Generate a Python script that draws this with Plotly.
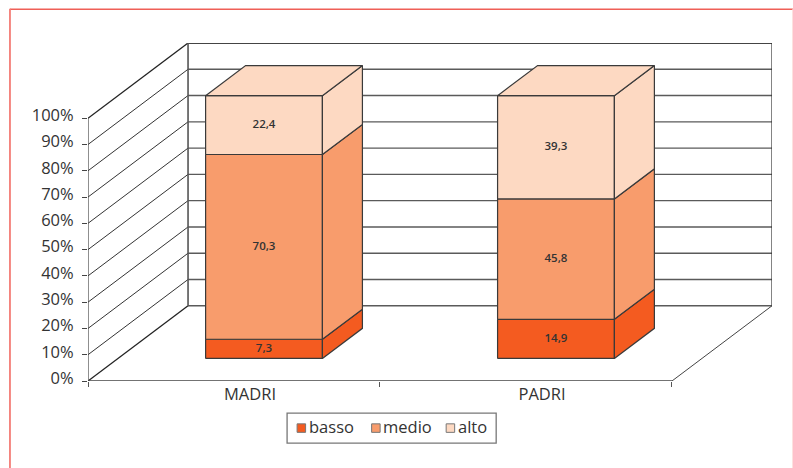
import plotly.graph_objects as go

categories = ["MADRI", "PADRI"]
series_names = ["basso", "medio", "alto"]
basso = [7.3, 14.9]
medio = [70.3, 45.8]
alto = [22.4, 39.3]
value_labels = {"basso": ["7,3", "14,9"], "medio": ["70,3", "45,8"], "alto": ["22,4", "39,3"]}
y_ticks = [0, 10, 20, 30, 40, 50, 60, 70, 80, 90, 100]
y_tick_text = ["0%", "10%", "20%", "30%", "40%", "50%", "60%", "70%", "80%", "90%", "100%"]
colors = {"basso": "#F45B20", "medio": "#F89C6C", "alto": "#FDD9C2"}

W, H = 793, 468
L, R, T, B = 88.0, 771.7, 43.3, 381.0     # plot box in pixels
PX_CAT = 291.85                           # pixels per category
PX_PCT = 2.63                             # pixels per percent
DX = 100 / PX_CAT                         # depth shear in x units
DY = 75.3 / PX_PCT                        # depth shear in y units
BAR_START, BAR_W = 0.3, 0.4               # in category units
D_FRONT, D_BACK = 0.3, 0.7                # bar position in depth
LINE = "#3a3a3a"
FONT = "Open Sans"


def proj(x, y, d=0.0):
    return x + d * DX, y + d * DY


def poly(points):
    xs, ys = zip(*[proj(*p) for p in points])
    return list(xs) + [xs[0]], list(ys) + [ys[0]]


def paper_x(px):
    return (px - L) / (R - L)


def paper_y(py):
    return (B - py) / (B - T)


fig = go.Figure()


def add_lines(segments, color, width):
    xs, ys = [], []
    for a, b in segments:
        pa, pb = proj(*a), proj(*b)
        xs += [pa[0], pb[0], None]
        ys += [pa[1], pb[1], None]
    fig.add_trace(go.Scatter(x=xs, y=ys, mode="lines", line=dict(color=color, width=width),
                             showlegend=False, hoverinfo="skip", cliponaxis=False))


# Walls
n = len(categories)
add_lines([((0, t, 1), (n, t, 1)) for t in y_ticks[:-1]], "#5a5a5a", 1.4)
add_lines([((0, 100, 1), (n, 100, 1))], "#444444", 1.8)
add_lines([((0, t, 0), (0, t, 1)) for t in y_ticks[1:-1]], "#333333", 1)
add_lines([((0, 0, 0), (0, 0, 1)), ((0, 100, 0), (0, 100, 1))], "#222222", 1.3)
add_lines([((0, 0, 0), (0, 100, 0))], "#444444", 1.2)
add_lines([((0, 0, 1), (0, 100, 1))], "#555555", 1.6)
add_lines([((n, 0, 1), (n, 100, 1))], "#333333", 1.2)
add_lines([((n, 0, 0), (n, 0, 1))], "#444444", 1)
add_lines([((0, 0, 0), (n, 0, 0))], "#444444", 1.6)

# Bars
series_values = {"basso": basso, "medio": medio, "alto": alto}
for i in range(n):
    x0, x1 = i + BAR_START, i + BAR_START + BAR_W
    base = 0.0
    for name in series_names:
        v = series_values[name][i]
        top = base + v
        for face in (
            [(x0, base, D_FRONT), (x1, base, D_FRONT), (x1, top, D_FRONT), (x0, top, D_FRONT)],
            [(x1, base, D_FRONT), (x1, base, D_BACK), (x1, top, D_BACK), (x1, top, D_FRONT)],
        ):
            xs, ys = poly(face)
            fig.add_trace(go.Scatter(x=xs, y=ys, mode="lines", fill="toself", fillcolor=colors[name],
                                     line=dict(color=LINE, width=1.2), name=name, showlegend=False,
                                     hoverinfo="skip", cliponaxis=False))
        if name == series_names[-1]:
            xs, ys = poly([(x0, top, D_FRONT), (x1, top, D_FRONT), (x1, top, D_BACK), (x0, top, D_BACK)])
            fig.add_trace(go.Scatter(x=xs, y=ys, mode="lines", fill="toself", fillcolor=colors[name],
                                     line=dict(color=LINE, width=1.2), name=name, showlegend=False,
                                     hoverinfo="skip", cliponaxis=False))
        cx, cy = proj((x0 + x1) / 2, base + v / 2, D_FRONT)
        fig.add_trace(go.Scatter(x=[cx], y=[cy], mode="text", text=[value_labels[name][i]],
                                 textfont=dict(family=FONT, size=11.5, color="#333333", weight=600),
                                 textposition="middle center", showlegend=False, hoverinfo="skip",
                                 cliponaxis=False))
        base = top

# Frame and hand-placed compact legend
shapes = [
    dict(type="line", xref="paper", yref="paper", x0=paper_x(10), x1=paper_x(793), y0=paper_y(9.5), y1=paper_y(9.5),
         line=dict(color="#EF5F57", width=1.5)),
    dict(type="line", xref="paper", yref="paper", x0=paper_x(10), x1=paper_x(10), y0=paper_y(9), y1=paper_y(468),
         line=dict(color="#F47C76", width=1.8)),
    dict(type="line", xref="paper", yref="paper", x0=paper_x(792.5), x1=paper_x(792.5), y0=paper_y(9), y1=paper_y(468),
         line=dict(color="#FDD5D2", width=1)),
    dict(type="rect", xref="paper", yref="paper", x0=paper_x(287), x1=paper_x(496), y0=paper_y(413), y1=paper_y(443),
         line=dict(color="#777777", width=1.3), fillcolor="white"),
]
annotations = []
legend_marker_px = [297, 371.5, 446]
legend_text_px = [307.5, 382, 456.5]
for name, mx, tx in zip(series_names, legend_marker_px, legend_text_px):
    shapes.append(dict(type="rect", xref="paper", yref="paper", x0=paper_x(mx), x1=paper_x(mx + 8.5),
                       y0=paper_y(423.8), y1=paper_y(432.3), fillcolor=colors[name],
                       line=dict(color="#777777", width=1)))
    annotations.append(dict(xref="paper", yref="paper", x=paper_x(tx), y=paper_y(426), xanchor="left", yanchor="middle",
                            text=name, showarrow=False, borderpad=0,
                            font=dict(family=FONT, size=16.5, color="#333333")))

fig.update_layout(
    width=W, height=H,
    margin=dict(l=L, r=W - R, t=T, b=H - B, pad=0),
    paper_bgcolor="white", plot_bgcolor="white", showlegend=False,
    shapes=shapes, annotations=annotations,
    font=dict(family=FONT, color="#333333", size=16),
    xaxis=dict(range=[0, n + DX], showgrid=False, zeroline=False, showline=False,
               tickmode="array", tickvals=[i + 0.555 for i in range(n)], ticktext=categories,
               ticks="", ticklabelstandoff=1, tickfont=dict(family=FONT, size=16.5, color="#333333"),
               minor=dict(tickmode="array", tickvals=list(range(n + 1)), ticks="outside", ticklen=5,
                          tickcolor="#555555", tickwidth=1, showgrid=False)),
    yaxis=dict(range=[0, 100 + DY], showgrid=False, zeroline=False, showline=False,
               tickmode="array", tickvals=y_ticks, ticktext=y_tick_text, ticks="outside", ticklen=5,
               tickcolor="#444444", tickwidth=1, ticklabelstandoff=5, ticklabelshift=-3,
               tickfont=dict(family=FONT, size=16.5, color="#333333")),
)

fig.write_html("out.html", post_script="document.body.style.margin='0';",
               config={"displayModeBar": False})
